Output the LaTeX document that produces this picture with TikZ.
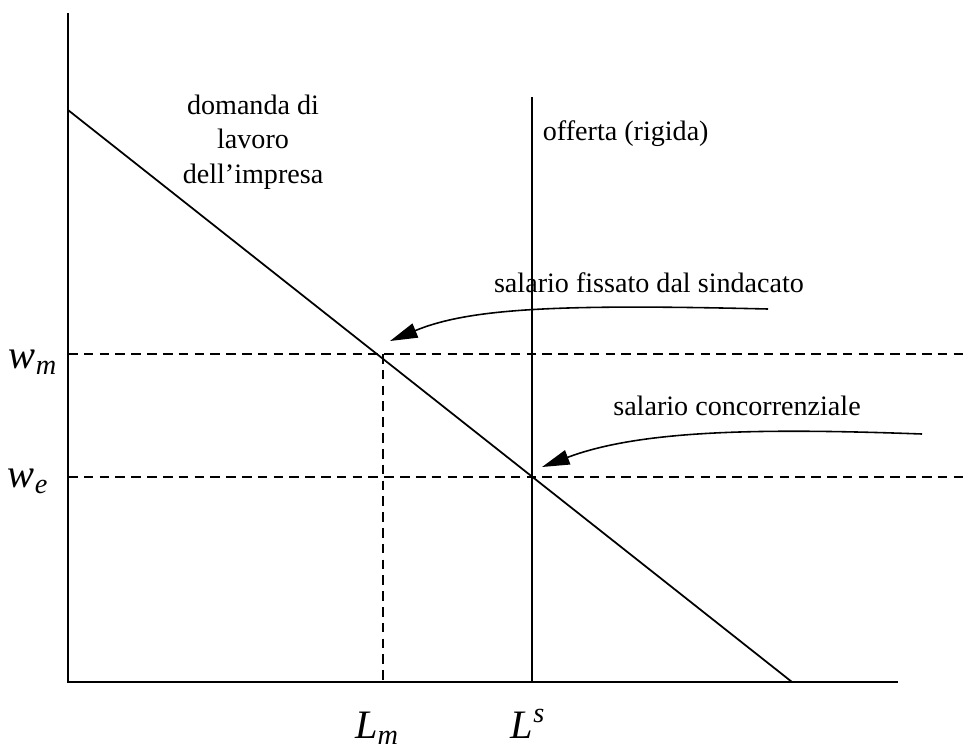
\documentclass[tikz,border=0pt]{standalone}
\usepackage{fontspec}
\setmainfont{Liberation Serif}
\usetikzlibrary{arrows.meta}
\tikzset{
  testo/.style={font=\fontsize{16}{19.5}\selectfont, inner sep=0pt, align=center},
  simbolo/.style={font=\fontsize{23}{27}\selectfont\itshape, inner sep=0pt, anchor=base},
  tratto/.style={line width=0.9pt, dash pattern=on 5.5pt off 3.5pt},
  freccia/.style={line width=0.9pt, -{Triangle[length=0.55cm, width=0.3cm]}},
}
\begin{document}
\begin{tikzpicture}[x=0.02cm, y=-0.02cm, line width=1pt]
    \useasboundingbox (0,0) rectangle (966,751);
    % Assi
    \coordinate (origine) at (68,682);
    \draw (68,13) -- (origine) -- (898,682);
    % Domanda e offerta
    \coordinate (dtop) at (68,110);
    \coordinate (dbot) at (792,682);
    \draw (dtop) -- (dbot);
    \coordinate (stop) at (532,97);
    \coordinate (sbot) at (532,682);
    \draw (stop) -- (sbot);
    % Salari
    \coordinate (pm) at (383,354);
    \coordinate (pe) at (532,477);
    \draw[tratto] (68,354) -- (966,354);
    \draw[tratto] (68,477) -- (966,477);
    \draw[tratto] (pm) -- (383,682);
    % Etichette
    \node[simbolo] (wm) at (33,368) {w\textsubscript{m}};
    \node[simbolo] (we) at (28,487) {w\textsubscript{e}};
    \node[simbolo] (Lm) at (377,738) {L\textsubscript{m}};
    \node[simbolo] (Ls) at (528,738) {L\textsuperscript{s}};
    \node[testo, anchor=base] (domanda) at (253,183) {domanda di\\lavoro\\dell’impresa};
    \node[testo, anchor=base west] (offerta) at (542,140) {offerta (rigida)};
    \node[testo, anchor=base] (sindacato) at (649,292) {salario fissato dal sindacato};
    \node[testo, anchor=base] (concorr) at (737,415) {salario concorrenziale};
    % Frecce
    \coordinate (a1) at (768,309);
    \coordinate (b1) at (390,341);
    \draw[freccia] (a1) .. controls (560,304) and (470,308) .. (b1);
    \coordinate (a2) at (922,434);
    \coordinate (b2) at (542,467);
    \draw[freccia] (a2) .. controls (760,428) and (640,430) .. (b2);
\end{tikzpicture}
\end{document}
